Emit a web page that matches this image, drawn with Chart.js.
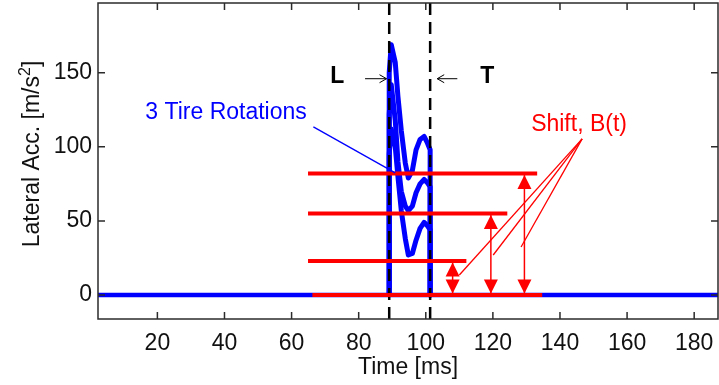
<!DOCTYPE html>
<html><head><meta charset="utf-8">
<script src="https://cdn.jsdelivr.net/npm/chart.js@4"></script>
<style>html,body{margin:0;padding:0;background:#fff;}#wrap{width:719px;height:385px;}</style>
</head><body><div id="wrap"><canvas id="c" width="719" height="385"></canvas></div>
<script>
// ---- data ----
const xTicks = [20, 40, 60, 80, 100, 120, 140, 160, 180];
const yTicks = [0, 50, 100, 150];
const xRange = [2.3, 187.1];
const yRange = [-16.2, 197.1];
const baselineX = [2.3, 187.1];
const baselineY = [0, 0];
const rotX  = [89.1, 89.1, 89.7, 90.9, 91.7, 92.7, 93.9, 94.8, 96.0, 97.1, 98.3, 99.5, 100.4, 101.3, 101.3];
const rot1Y = [0, 150, 169, 157, 134, 111, 89, 79, 84, 98, 105, 107, 103, 98, 0];
const rot2Y = [0, 122, 142, 118, 90, 70, 60, 57, 60, 69, 75, 78, 76, 73, 0];
const rot3Y = [0, 95, 112, 100, 80, 57, 38, 27, 28, 37, 45, 49, 47, 44, 0];
const markerX = [89.1, 101.3];          // L and T
const markerLabels = ['L', 'T'];
const shiftLevels = [0, 23, 55, 82];
const shiftStartX = [66.2, 64.9, 64.9, 64.9];
const shiftEndX   = [134.7, 112.1, 124.3, 133.2];
const arrowX   = [108.0, 119.4, 129.4];
const arrowTop = [23, 55, 82];

// ---- styles / annotation placement ----
const BLUE = '#0000ff', RED = '#ff0000';
const FONT = '"Liberation Sans", Arial, Helvetica, sans-serif';
const FS = 23;
const notes = {
  tireText: {x: 16.4, y: 123.0, text: '3 Tire Rotations'},
  tireLeader: [[66.5, 113.5], [90.9, 82.4]],
  shiftText: {x: 131.4, y: 114.9, text: 'Shift, B(t)'},
  shiftFrom: [146.6, 105.4],
  shiftTo: [[110.0, 13.5], [120.1, 27.0], [128.4, 32.4]],
  labelX: [73.6, 118.3], labelY: 147.3,
  arrowL: [81.9, 88.3], arrowT: [109.4, 103.4], arrowY: 146
};

const mk = (xs, ys) => xs.map((v, i) => ({x: v, y: ys[i]}));
const line = (data, color, width, order, extra) => Object.assign({
  data, borderColor: color, backgroundColor: color, borderWidth: width, order,
  showLine: true, pointRadius: 0, fill: false, tension: 0,
  borderJoinStyle: 'round', borderCapStyle: 'butt'
}, extra || {});

const datasets = [
  line(mk(baselineX, baselineY), BLUE, 4.5, 50),
  line(mk(rotX, rot1Y), BLUE, 5, 40),
  line(mk(rotX, rot2Y), BLUE, 5, 41),
  line(mk(rotX, rot3Y), BLUE, 5, 42),
  ...markerX.map(mx => line(mk([mx, mx], yRange), '#000', 2.5, 30, {borderDash: [12, 7]})),
  ...shiftLevels.map((lv, i) => line(mk([shiftStartX[i], shiftEndX[i]], [lv, lv]), RED, 4, 20))
];

const annot = {
  id: 'annot',
  afterDatasetsDraw(chart) {
    const {ctx, scales: {x, y}} = chart;
    const px = v => x.getPixelForValue(v), py = v => y.getPixelForValue(v);
    ctx.save();
    ctx.strokeStyle = RED; ctx.fillStyle = RED; ctx.lineWidth = 1.5;
    const tri = (X, tip, dir) => {
      ctx.beginPath(); ctx.moveTo(X, tip);
      ctx.lineTo(X - 7, tip - dir * 14); ctx.lineTo(X + 7, tip - dir * 14);
      ctx.closePath(); ctx.fill();
    };
    arrowX.forEach((ax, i) => {
      const X = px(ax), yb = py(0) - 1.5, yt = py(arrowTop[i]) + 1.5;
      ctx.beginPath(); ctx.moveTo(X, yb); ctx.lineTo(X, yt); ctx.stroke();
      tri(X, yt, -1); tri(X, yb, 1);
    });
    ctx.lineWidth = 1.3;
    notes.shiftTo.forEach(p => {
      ctx.beginPath(); ctx.moveTo(px(notes.shiftFrom[0]), py(notes.shiftFrom[1]));
      ctx.lineTo(px(p[0]), py(p[1])); ctx.stroke();
    });
    ctx.font = FS + 'px ' + FONT; ctx.textBaseline = 'middle'; ctx.textAlign = 'left';
    ctx.fillText(notes.shiftText.text, px(notes.shiftText.x), py(notes.shiftText.y));
    ctx.strokeStyle = BLUE; ctx.fillStyle = BLUE; ctx.lineWidth = 1.3;
    ctx.beginPath(); ctx.moveTo(px(notes.tireLeader[0][0]), py(notes.tireLeader[0][1]));
    ctx.lineTo(px(notes.tireLeader[1][0]), py(notes.tireLeader[1][1])); ctx.stroke();
    ctx.fillText(notes.tireText.text, px(notes.tireText.x), py(notes.tireText.y));
    ctx.fillStyle = '#000'; ctx.strokeStyle = '#000'; ctx.lineWidth = 1;
    ctx.font = 'bold ' + FS + 'px ' + FONT; ctx.textAlign = 'center';
    markerLabels.forEach((t, i) => ctx.fillText(t, px(notes.labelX[i]), py(notes.labelY)));
    const arr = (a, b, yy) => {
      const x0 = px(a), x1 = px(b), Y = py(yy), d = Math.sign(x1 - x0);
      ctx.beginPath(); ctx.moveTo(x0, Y); ctx.lineTo(x1, Y);
      ctx.moveTo(x1 - d * 7, Y - 4); ctx.lineTo(x1, Y); ctx.lineTo(x1 - d * 7, Y + 4);
      ctx.stroke();
    };
    arr(notes.arrowL[0], notes.arrowL[1], notes.arrowY);
    arr(notes.arrowT[0], notes.arrowT[1], notes.arrowY);
    ctx.restore();
  },
  afterDraw(chart) {
    const {ctx, chartArea: a, scales: {x, y}} = chart;
    ctx.save();
    ctx.strokeStyle = '#2b2b2b'; ctx.lineWidth = 1.5;
    ctx.strokeRect(a.left, a.top, a.right - a.left, a.bottom - a.top);
    ctx.beginPath();
    xTicks.forEach(v => { const X = x.getPixelForValue(v);
      ctx.moveTo(X, a.bottom); ctx.lineTo(X, a.bottom - 7);
      ctx.moveTo(X, a.top); ctx.lineTo(X, a.top + 7); });
    yTicks.forEach(v => { const Y = y.getPixelForValue(v);
      ctx.moveTo(a.left, Y); ctx.lineTo(a.left + 7, Y);
      ctx.moveTo(a.right, Y); ctx.lineTo(a.right - 7, Y); });
    ctx.stroke();
    ctx.fillStyle = '#111'; ctx.font = FS + 'px ' + FONT;
    ctx.textAlign = 'center'; ctx.textBaseline = 'alphabetic';
    ctx.fillText('Time [ms]', (a.left + a.right) / 2, 374);
    ctx.translate(39, 154); ctx.rotate(-Math.PI / 2);
    const p1 = 'Lateral Acc. [m/s', p2 = '2', p3 = ']';
    const supFont = Math.round(FS * 0.7) + 'px ' + FONT;
    const w1 = ctx.measureText(p1).width, w3 = ctx.measureText(p3).width;
    ctx.font = supFont; const w2 = ctx.measureText(p2).width;
    let sx = -(w1 + w2 + w3) / 2;
    ctx.font = FS + 'px ' + FONT; ctx.textAlign = 'left';
    ctx.fillText(p1, sx, 0); sx += w1;
    ctx.font = supFont; ctx.fillText(p2, sx, -9); sx += w2;
    ctx.font = FS + 'px ' + FONT; ctx.fillText(p3, sx, 0);
    ctx.restore();
  }
};

new Chart(document.getElementById('c'), {
  type: 'scatter',
  data: {datasets},
  options: {
    responsive: false, animation: false, devicePixelRatio: 1,
    layout: {padding: {top: 3, right: 1, left: 0, bottom: 0}},
    plugins: {legend: {display: false}, tooltip: {enabled: false}},
    scales: {
      x: {type: 'linear', min: xRange[0], max: xRange[1],
        afterBuildTicks: s => { s.ticks = xTicks.map(v => ({value: v})); },
        afterFit: s => { s.height = 66; s.paddingLeft = 0; s.paddingRight = 0; },
        grid: {display: false, drawTicks: false}, border: {display: false},
        ticks: {font: {family: FONT, size: FS}, color: '#111', padding: 11, maxRotation: 0, autoSkip: false}},
      y: {type: 'linear', min: yRange[0], max: yRange[1],
        afterBuildTicks: s => { s.ticks = yTicks.map(v => ({value: v})); },
        afterFit: s => { s.width = 98; s.paddingTop = 0; s.paddingBottom = 0; },
        grid: {display: false, drawTicks: false}, border: {display: false},
        ticks: {font: {family: FONT, size: FS}, color: '#111', padding: 6, autoSkip: false}}
    }
  },
  plugins: [annot]
});
</script></body></html>
